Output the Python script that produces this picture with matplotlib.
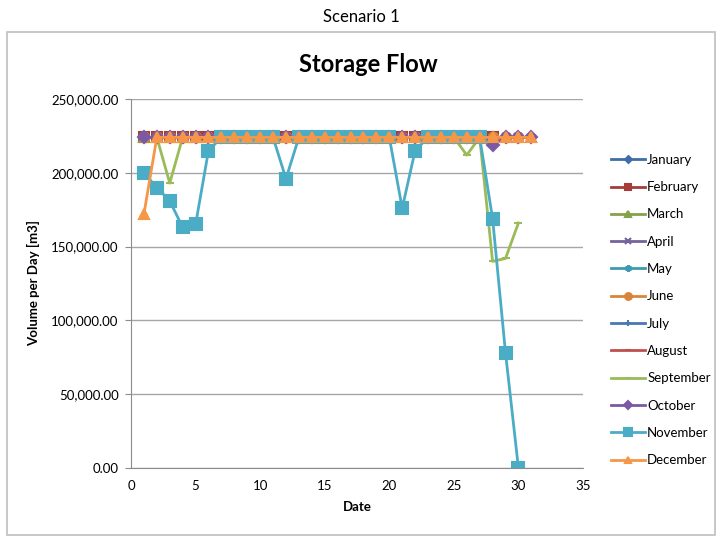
import numpy as np
import matplotlib
matplotlib.use('Agg')
import matplotlib.pyplot as plt
from matplotlib.patches import Rectangle
from matplotlib.ticker import FuncFormatter

plt.rcParams['font.family'] = ['Lato', 'DejaVu Sans']

# daily storage flow per month, in thousands of m3
jan = [224, 224, 224, 224, 224, 224, 224, 224, 224, 224, 224, 224, 224, 224, 224, 224,
       224, 224, 224, 224, 224, 224, 224, 224, 224, 224, 224, 224, 224, 224, 224]
feb = [224, 224, 224, 224, 224, 224, 224, 224, 224, 224, 224, 224, 224, 224,
       224, 224, 224, 224, 224, 224, 224, 224, 224, 224, 224, 224, 224, 224]
mar = [224, 224, 224, 224, 224, 224, 224, 224, 224, 224, 224, 224, 224, 224, 224, 224,
       224, 224, 224, 224, 224, 224, 224, 224, 224, 224, 224, 224, 224, 224, 224]
apr = [224, 224, 224, 224, 224, 224, 224, 224, 224, 224, 224, 224, 224, 224, 224,
       224, 224, 224, 224, 224, 224, 224, 224, 224, 224, 224, 224, 224, 224, 224]
may = [224, 224, 224, 224, 224, 224, 224, 224, 224, 224, 224, 224, 224, 224, 224, 224,
       224, 224, 224, 224, 224, 224, 224, 224, 224, 224, 224, 224, 224, 224, 224]
jun = [224, 224, 224, 224, 224, 224, 224, 224, 224, 224, 224, 224, 224, 224, 224,
       224, 224, 224, 224, 224, 224, 224, 224, 224, 224, 224, 224, 224, 224, 224]
jul = [224, 224, 224, 224, 224, 224, 224, 224, 224, 224, 224, 224, 224, 224, 224, 224,
       224, 224, 224, 224, 224, 224, 224, 224, 224, 224, 224, 224, 224, 224, 224]
aug = [224, 224, 224, 224, 224, 224, 224, 224, 224, 224, 224, 224, 224, 224, 224, 224,
       224, 224, 224, 224, 224, 224, 224, 224, 224, 224, 224, 224, 224, 224, 224]
sep = [224, 224, 193, 224, 224, 224, 224, 224, 224, 224, 224, 224, 224, 224, 224,
       224, 224, 224, 224, 224, 224, 224, 224, 224, 224, 212, 224, 140, 142, 166]
oct_ = [224, 224, 224, 224, 224, 224, 224, 224, 224, 224, 224, 224, 224, 224, 224, 224,
        224, 224, 224, 224, 224, 224, 224, 224, 224, 224, 224, 219, 224, 224, 224]
nov = [200, 190, 181, 163, 165, 215, 224, 224, 224, 224, 224, 196, 224, 224, 224,
       224, 224, 224, 224, 224, 176, 215, 224, 224, 224, 224, 224, 169, 78, 0]
dec = [172, 224, 224, 224, 224, 224, 224, 224, 224, 224, 224, 224, 224, 224, 224, 224,
       224, 224, 224, 224, 224, 224, 224, 224, 224, 224, 224, 224, 224, 224, 224]

months = ['January', 'February', 'March', 'April', 'May', 'June', 'July',
          'August', 'September', 'October', 'November', 'December']
series = [jan, feb, mar, apr, may, jun, jul, aug, sep, oct_, nov, dec]

colors = ['#3F6DA8', '#A63C3A', '#86A14B', '#75629A', '#3E9AB2', '#D98539',
          '#4A78B4', '#C0504D', '#9BBB59', '#7A5AA6', '#4BACC6', '#F79646']
markers = ['D', 's', '^', 'x', (6, 2, 0), 'o', '+', '_', '_', 'D', 's', '^']
msizes = [5, 7, 7, 6, 7, 7, 7, 6, 6, 6, 8, 7]

fig = plt.figure(figsize=(7.22, 5.37), dpi=100)
ax = fig.add_axes([131 / 722, 1 - 468 / 537, 452 / 722, 369 / 537])

for vals, name, c, m, ms in zip(series, months, colors, markers, msizes):
    days = np.arange(1, len(vals) + 1)
    ax.plot(days, np.array(vals) * 1000, color=c, lw=2, marker=m, ms=ms,
            mew=1.5, label=name)

ax.set_xlim(0, 35)
ax.set_ylim(0, 250000)
ax.set_xticks(np.arange(0, 36, 5))
ax.set_yticks(np.arange(0, 250001, 50000))
ax.yaxis.set_major_formatter(FuncFormatter(lambda v, p: f'{v:,.2f}'))
ax.grid(axis='y', color='#A6A6A6', lw=1)
ax.set_axisbelow(True)
for s in ['top', 'right']:
    ax.spines[s].set_visible(False)
for s in ['left', 'bottom']:
    ax.spines[s].set_color('#8C8C8C')
ax.tick_params(axis='y', length=4, color='#8C8C8C', labelsize=9.5, pad=5)
ax.tick_params(axis='x', length=0, labelsize=9.5, pad=9)
ax.set_xlabel('Date', fontsize=9.5, fontweight='bold', labelpad=6)
ax.set_ylabel('Volume per Day [m3]', fontsize=9.5, fontweight='bold', labelpad=8)

ax.legend(loc='upper left', bbox_to_anchor=(599 / 722, 1 - 142 / 537),
          bbox_transform=fig.transFigure, frameon=False, fontsize=9.5,
          labelspacing=1.16, handlelength=2.6, handletextpad=0.15,
          markerscale=0.7)

fig.text(368 / 722, 1 - 64 / 537, 'Storage Flow', ha='center', va='center',
         fontsize=17, fontweight='bold')
fig.text(361 / 722, 1 - 17 / 537, 'Scenario 1', ha='center', va='center',
         fontsize=12)
fig.patches.append(Rectangle((7 / 722, 2 / 537), 708 / 722, 1 - 34 / 537,
                             transform=fig.transFigure, fill=False,
                             edgecolor='#BFBFBF', lw=1.2))

fig.savefig('out.png', dpi=100)
